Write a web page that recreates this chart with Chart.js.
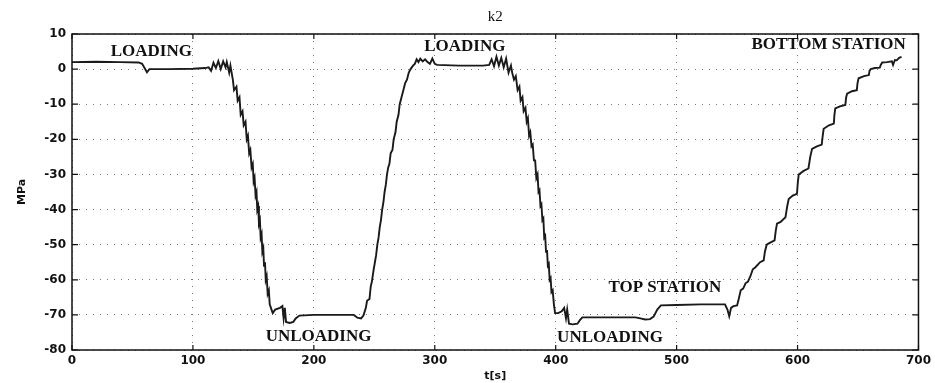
<!DOCTYPE html>
<html>
<head>
<meta charset="utf-8">
<script src="https://cdn.jsdelivr.net/npm/chart.js@4"></script>
<style>
  html, body { margin: 0; padding: 0; background: #fff; }
  #wrap { width: 935px; height: 383px; }
</style>
</head>
<body>
<div id="wrap"><canvas id="chart"></canvas></div>
<script>
// time axis [s]
const timeS = [
    0, 20, 40, 55, 58, 60, 62, 64, 80, 100, 110, 113, 115, 117, 119, 121, 123, 125, 127, 128, 130, 131, 133,
    134, 136, 137, 138.5, 139.5, 141, 142, 143.5, 144.5, 145.5, 146.5, 147.5, 148.5, 149.5, 150.2, 151, 151.8,
    152.6, 153.2, 154, 154.6, 155.4, 156, 156.8, 157.4, 158.2, 158.8, 159.6, 160.2, 161, 161.8, 162.8, 163.5,
    165, 166, 168, 172, 174, 175, 176, 177, 180, 183, 185, 188, 200, 220, 233, 236, 239, 241, 243,
    244, 246, 247, 248, 249.5, 250.5, 251.5, 252.5, 253.5, 254.5, 255.5, 256.5, 257.5, 258.5, 259.5, 260.5,
    261.5, 262.5, 263.5, 265, 266, 267.5, 268.5, 270, 271, 272.5, 274, 275.5, 277, 278.5, 280, 282, 283.5,
    285, 286.5, 288, 290, 292, 294, 296, 298, 300, 302, 320, 340, 345, 347, 349, 351, 353, 355, 357, 359, 361, 363,
    364, 365.5, 367, 368.5, 370, 371, 372.5, 373.5, 375, 376, 377, 378, 379, 380, 381, 382, 383, 384, 385,
    385.8, 386.6, 387.4, 388.2, 389, 389.8, 390.5, 391.3, 392, 392.8, 393.5, 394.3, 395, 395.8, 396.5, 397.5,
    398.5, 399.5, 402, 405, 407, 408.5, 409.5, 411, 414, 418, 420, 422, 440, 466, 470, 474, 478, 481, 484, 487,
    500, 520, 540, 542, 543.5, 545, 547, 550,
    551, 553, 555, 557, 559, 561, 563, 565, 569, 572, 573, 574.5, 577, 581, 582, 583, 586, 590, 591.5, 592.7,
    596, 599.5, 600.3, 601, 605, 609, 610.5, 612, 616, 620, 620.8, 621.6, 626, 630, 630.5, 631.2, 635, 639.5,
    640.2, 641, 645, 649, 649.6, 650.5, 655, 659, 659.5, 660.5, 664, 668, 668.8, 670, 674, 678, 679, 680.5,
    682, 684, 686
];
// stress [MPa]
const stressMPa = [
    2, 2.1, 2, 1.9, 1.5, 0.3, -0.9, 0, 0, 0.1, 0.3, 0.5, -0.5, 1.8, 0.3, 2.3, 0, 2.2, 0.5, 2, -1, 1, -3,
    -6, -5, -9, -8, -13, -12, -16, -15, -20, -19, -24, -23, -28, -27, -32, -31, -36,
    -35, -40, -39, -44, -43, -48, -47, -52, -51, -56, -55, -60, -59, -64, -63, -67,
    -68.5, -69.5, -68.5, -68, -67.5, -71, -68, -72, -72.3, -72, -71, -70.2, -70, -70, -70, -70.8, -71, -70.2, -68,
    -66, -65.5, -62, -60.5, -57, -55, -53, -50, -48, -45, -43, -40, -38, -35, -33, -30,
    -28, -27, -24, -23, -20, -18, -15, -13, -10, -8, -6, -4, -3, -1, 0, 1, 1.5,
    2.8, 2, 3, 2.2, 2.8, 2, 1.5, 3, 1.5, 1.2, 1, 1, 1.2, 2.8, 0.8, 3.5, 1, 3.2, 0.5, 3, -1, 1,
    -1, -3, -2, -6, -5, -9, -8, -12, -11, -15, -14, -19, -18, -22, -21.5, -26, -26, -31, -30,
    -35, -34.5, -39, -38.5, -43, -42.5, -48, -47.5, -52, -51.5, -56, -55.5, -60, -59.5, -63.5, -63,
    -67, -69.5, -69.5, -69, -68, -71, -68.5, -72.5, -72.7, -72.5, -71.5, -70.7, -70.7, -70.7, -71, -71.3, -71.2, -70.5, -68.5, -67.3,
    -67.2, -67, -67, -68.5, -70.4, -68, -67.5, -67.3,
    -66, -63, -62.5, -61, -60.5, -59, -57, -56.5, -55, -54.5, -52, -50, -49.5, -48.8, -46, -44, -43.5, -42.2, -39, -37,
    -36, -35.5, -32, -30, -29, -28.3, -25, -22.7, -22, -21.5, -19, -17, -16, -15.5, -13, -11.2, -10.6, -10.2,
    -8, -7, -6.3, -6, -4, -2.6, -2, -1.7, -0.5, 0, 0.3, 0.4, 1.2, 1.9, 2, 2.2, 1.2, 2.6,
    2.5, 3.2, 3.5
];

const xTicks = [0, 100, 200, 300, 400, 500, 600, 700];
const yTicks = [10, 0, -10, -20, -30, -40, -50, -60, -70, -80];

const noteText = ["LOADING", "LOADING", "BOTTOM STATION", "UNLOADING", "UNLOADING", "TOP STATION"];
const noteT = [65.6, 324.8, 625.7, 203.9, 444.9, 490.3];
const noteV = [5.0, 6.4, 7.0, -76.1, -76.5, -62.3];

const points = timeS.map((t, i) => ({ x: t, y: stressMPa[i] }));

// frame with inward tick marks, matlab style
const framePlugin = {
    id: "frame",
    afterDatasetsDraw(chart) {
        const ctx = chart.ctx;
        const a = chart.chartArea;
        const xs = chart.scales.x, ys = chart.scales.y;
        ctx.save();
        ctx.strokeStyle = "#111";
        ctx.lineWidth = 1.5;
        ctx.strokeRect(a.left, a.top, a.right - a.left, a.bottom - a.top);
        ctx.lineWidth = 1.2;
        ctx.beginPath();
        xTicks.forEach(t => {
            const px = xs.getPixelForValue(t);
            ctx.moveTo(px, a.bottom); ctx.lineTo(px, a.bottom - 5);
            ctx.moveTo(px, a.top); ctx.lineTo(px, a.top + 5);
        });
        yTicks.forEach(v => {
            const py = ys.getPixelForValue(v);
            ctx.moveTo(a.left, py); ctx.lineTo(a.left + 6, py);
            ctx.moveTo(a.right, py); ctx.lineTo(a.right - 6, py);
        });
        ctx.stroke();

        // annotations
        ctx.fillStyle = "#111";
        ctx.font = "bold 17px 'Liberation Serif', serif";
        ctx.textAlign = "center";
        ctx.textBaseline = "middle";
        noteText.forEach((s, i) => {
            ctx.fillText(s, xs.getPixelForValue(noteT[i]), ys.getPixelForValue(noteV[i]));
        });
        ctx.restore();
    }
};

const tickFont = { family: "'DejaVu Sans', sans-serif", size: 12, weight: "bold" };

new Chart(document.getElementById("chart"), {
    type: "line",
    data: {
        datasets: [{
            data: points,
            borderColor: "#1a1a1a",
            borderWidth: 1.9,
            pointRadius: 0,
            tension: 0,
            fill: false
        }]
    },
    options: {
        responsive: true,
        maintainAspectRatio: false,
        animation: false,
        layout: { padding: { left: 0, right: 15, top: 0, bottom: 0 } },
        plugins: {
            legend: { display: false },
            tooltip: { enabled: false },
            title: {
                display: true,
                text: "k2",
                fullSize: false,
                color: "#111",
                font: { family: "'Liberation Serif', serif", size: 15, weight: "normal" },
                padding: { top: 8, bottom: 8 }
            }
        },
        scales: {
            x: {
                type: "linear",
                min: 0, max: 700,
                afterBuildTicks: s => { s.ticks = xTicks.map(v => ({ value: v })); },
                afterFit: s => { s.height = 33; },
                ticks: { color: "#111", font: tickFont, padding: 4, maxRotation: 0 },
                grid: { color: "#777", lineWidth: 1, drawTicks: false },
                border: { display: false, dash: [1, 6] },
                title: {
                    display: true, text: "t[s]", color: "#111",
                    font: { family: "'DejaVu Sans', sans-serif", size: 11, weight: "bold" },
                    padding: { top: 0, bottom: 0 }
                }
            },
            y: {
                type: "linear",
                min: -80, max: 10,
                afterBuildTicks: s => { s.ticks = yTicks.map(v => ({ value: v })); },
                afterFit: s => { s.width = 72; },
                ticks: { color: "#111", font: tickFont, padding: 6 },
                grid: { color: "#777", lineWidth: 1, drawTicks: false },
                border: { display: false, dash: [1, 6] },
                title: {
                    display: true, text: "MPa", color: "#111",
                    font: { family: "'DejaVu Sans', sans-serif", size: 11, weight: "bold" },
                    padding: { top: 16, bottom: 0 }
                }
            }
        }
    },
    plugins: [framePlugin]
});
</script>
</body>
</html>
